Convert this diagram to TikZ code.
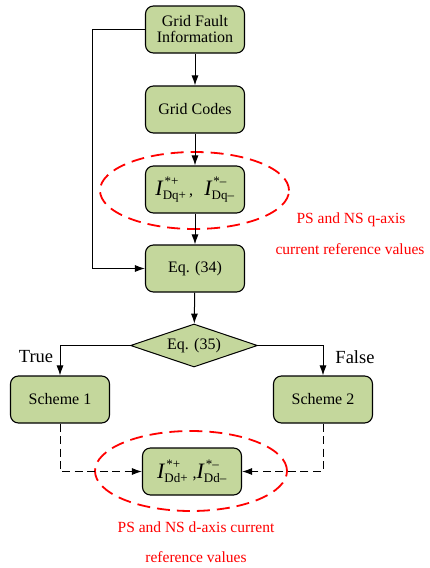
\documentclass[tikz,border=0pt]{standalone}
\usepackage{fontspec}
\usepackage{amsmath}
\setmainfont{Liberation Serif}
\usetikzlibrary{shapes.geometric,arrows.meta}
\definecolor{boxgreen}{RGB}{196,215,156}
\definecolor{refred}{RGB}{255,0,0}
\newcommand{\Icur}[2]{$\text{\fontsize{22}{22}\selectfont\itshape I}^{\,\text{\fontsize{13}{13}\selectfont *#1}}_{\text{\fontsize{13}{13}\selectfont D#2#1}}$}
\begin{document}
\begin{tikzpicture}[x=1pt,y=-1pt,
  font=\fontsize{16}{19}\selectfont,
  stepbox/.style={draw=black,line width=1.1pt,fill=boxgreen,rounded corners=8pt,
    minimum width=99pt,minimum height=47pt,inner sep=0pt,align=center},
  decision/.style={draw=black,line width=1pt,fill=boxgreen,diamond,aspect=2.95,
    minimum width=127pt,minimum height=43pt,inner sep=0pt},
  conn/.style={line width=1pt,-{Latex[length=10pt,width=7pt]}},
  dconn/.style={conn,dash pattern=on 8pt off 4.5pt},
  redell/.style={draw=refred,line width=1.8pt,dash pattern=on 13pt off 7pt},
  redtxt/.style={text=refred,font=\fontsize{15.5}{18}\selectfont}
]
\useasboundingbox (0,0) rectangle (429,568);
\node[stepbox] (gfi) at (195,29.5) {Grid Fault\\[-3pt]Information};
\node[stepbox] (gc) at (195,109.5) {Grid Codes};
\node[stepbox] (idq) at (195,189.5) {\Icur{+}{q}\,,\;\, \Icur{–}{q}};
\node[stepbox] (eq34) at (195,268.5) {Eq. (34)};
\node[decision] (eq35) at (194,345.5) {Eq. (35)};
\node[stepbox] (s1) at (60,399.5) {Scheme 1};
\node[stepbox] (s2) at (323,399.5) {Scheme 2};
\node[stepbox] (idd) at (192,471.5) {\Icur{+}{d}\;,\Icur{–}{d}};

\draw[redell] (194.5,190.5) ellipse [x radius=94.5pt,y radius=38.5pt];
\draw[redell] (191,471) ellipse [x radius=96pt,y radius=40pt];

\node[redtxt] (q1) at (351,220) {PS and NS q-axis};
\node[redtxt] (q2) at (350,249) {current reference values};
\node[redtxt] (d1) at (196,527) {PS and NS d-axis current};
\node[redtxt] (d2) at (196,557) {reference values};

\node[font=\fontsize{18.5}{20}\selectfont] (true) at (36,357) {True};
\node[font=\fontsize{18.5}{20}\selectfont] (false) at (355,357) {False};

\coordinate (lft) at (92,29.5);
\draw[conn] (gfi) -- (gc);
\draw[conn] (gc) -- (idq);
\draw[conn] (idq) -- (eq34);
\draw[conn] (gfi.west) -- (lft) |- (eq34.west);
\draw[conn] (eq34) -- (eq35);
\draw[conn] (eq35.west) -| (s1.north);
\draw[conn] (eq35.east) -| (s2.north);
\draw[dconn] (s1.south) |- (idd.west);
\draw[dconn] (s2.south) |- (idd.east);
\end{tikzpicture}
\end{document}
